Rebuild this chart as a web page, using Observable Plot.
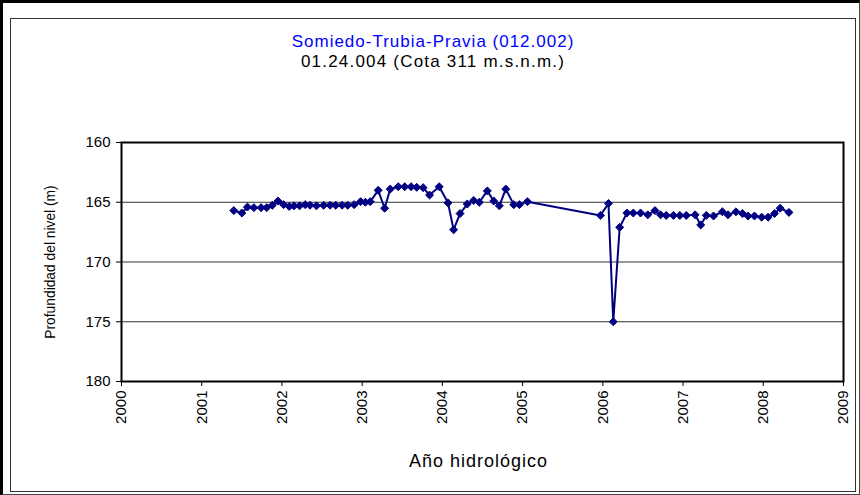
<!DOCTYPE html>
<html>
<head>
<meta charset="utf-8">
<script src="https://cdn.jsdelivr.net/npm/d3@7"></script>
<script src="https://cdn.jsdelivr.net/npm/@observablehq/plot@0.6"></script>
<style>
  html, body { margin: 0; padding: 0; background: #fff; }
  #wrap { position: relative; width: 860px; height: 495px; overflow: hidden; background: #fff;
          font-family: "Liberation Sans", Arial, sans-serif; }
  #outer { position: absolute; left: 0; top: 0; width: 856px; height: 491px;
           border-left: 3px solid #000; border-top: 3px solid #000;
           border-right: 1px solid #444; border-bottom: 1px solid #444; box-sizing: content-box; }
  #inner { position: absolute; left: 10px; top: 18px; width: 844px; height: 472px; border: 1px solid #333; }
  #title { position: absolute; left: 10px; width: 846px; top: 32px; text-align: center;
           font-size: 17px; letter-spacing: 1px; color: #0000ff; line-height: 20px; }
  #subtitle { position: absolute; left: 10px; width: 846px; top: 52px; text-align: center;
              font-size: 17px; letter-spacing: 1.2px; color: #000; line-height: 20px; }
  #chart { position: absolute; left: 0; top: 100px; }
</style>
</head>
<body>
<div id="wrap">
  <div id="outer"></div>
  <div id="inner"></div>
  <div id="title">Somiedo-Trubia-Pravia (012.002)</div>
  <div id="subtitle">01.24.004 (Cota 311 m.s.n.m.)</div>
  <div id="chart"></div>
</div>
<script>
// Fecha (año decimal) y profundidad del nivel (m)
const fechas = [
  2001.40, 2001.50, 2001.57, 2001.65, 2001.74, 2001.81, 2001.88, 2001.95,
  2002.02, 2002.09, 2002.15, 2002.22, 2002.29, 2002.35, 2002.43, 2002.52,
  2002.60, 2002.67, 2002.75, 2002.82, 2002.90, 2002.98, 2003.04, 2003.10,
  2003.20, 2003.28, 2003.35, 2003.45, 2003.53, 2003.61, 2003.68, 2003.76,
  2003.84, 2003.96, 2004.07, 2004.14, 2004.22, 2004.31, 2004.39, 2004.46,
  2004.56, 2004.64, 2004.71, 2004.79, 2004.89, 2004.96, 2005.06,
  2005.97, 2006.07, 2006.13, 2006.21, 2006.30, 2006.38, 2006.47, 2006.56,
  2006.65, 2006.72, 2006.79, 2006.88, 2006.96, 2007.04, 2007.15, 2007.22,
  2007.29, 2007.38, 2007.49, 2007.56, 2007.66, 2007.74, 2007.81, 2007.89,
  2007.98, 2008.06, 2008.14, 2008.21, 2008.32
];
const profundidad = [
  165.7, 165.9, 165.4, 165.45, 165.45, 165.45, 165.25, 164.9,
  165.2, 165.35, 165.3, 165.3, 165.2, 165.25, 165.3, 165.25,
  165.25, 165.25, 165.25, 165.25, 165.2, 164.95, 165.0, 164.95,
  164.0, 165.5, 163.9, 163.7, 163.7, 163.7, 163.75, 163.78,
  164.4, 163.7, 165.05, 167.3, 165.95, 165.15, 164.85, 165.0,
  164.05, 164.9, 165.3, 163.9, 165.2, 165.2, 164.95,
  166.1, 165.1, 175.0, 167.1, 165.9, 165.9, 165.9, 166.05,
  165.7, 166.05, 166.1, 166.1, 166.1, 166.1, 166.05, 166.9,
  166.1, 166.15, 165.8, 166.05, 165.8, 165.95, 166.15, 166.15,
  166.25, 166.25, 165.95, 165.5, 165.85
];
const yTicks = [160, 165, 170, 175, 180];
const yGrid = [165, 170, 175];
const xTicks = [2000, 2001, 2002, 2003, 2004, 2005, 2006, 2007, 2008, 2009];
const yLabel = "Profundidad del nivel (m)";
const xLabel = "Año hidrológico";

const data = fechas.map((t, i) => ({t, v: profundidad[i]}));

const chart = Plot.plot({
  width: 860,
  height: 395,
  marginLeft: 121,
  marginRight: 17,
  marginTop: 42,
  marginBottom: 114,
  x: {domain: [2000, 2009]},
  y: {domain: [180, 160]},
  style: {fontFamily: "'Liberation Sans', Arial, sans-serif", fontSize: "15px", color: "#000", background: "transparent", overflow: "visible"},
  marks: [
    Plot.ruleY(yGrid, {stroke: "#333", strokeWidth: 1}),
    Plot.frame({stroke: "#000", strokeWidth: 2}),
    Plot.axisY({ticks: yTicks, tickSize: 5, tickPadding: 6, label: null, fontSize: 15}),
    Plot.axisX({ticks: xTicks, tickFormat: "d", tickRotate: -90, tickSize: 5, tickPadding: 4, label: null, fontSize: 15}),
    Plot.line(data, {x: "t", y: "v", stroke: "#000080", strokeWidth: 2}),
    Plot.dot(data, {x: "t", y: "v", symbol: "diamond2", fill: "#000080", stroke: "#000080", strokeWidth: 1, r: 3.6}),
    Plot.text([yLabel], {frameAnchor: "left", textAnchor: "middle", rotate: -90, dx: -71, fontSize: 13.8, fill: "#000"}),
    Plot.text([xLabel], {frameAnchor: "bottom", textAnchor: "middle", dx: -4, dy: 85, fontSize: 18, fill: "#000"})
  ]
});
d3.select(chart).selectAll("text").filter(function() { return this.textContent === xLabel; })
  .attr("letter-spacing", "1px");
document.getElementById("chart").appendChild(chart);
</script>
</body>
</html>
